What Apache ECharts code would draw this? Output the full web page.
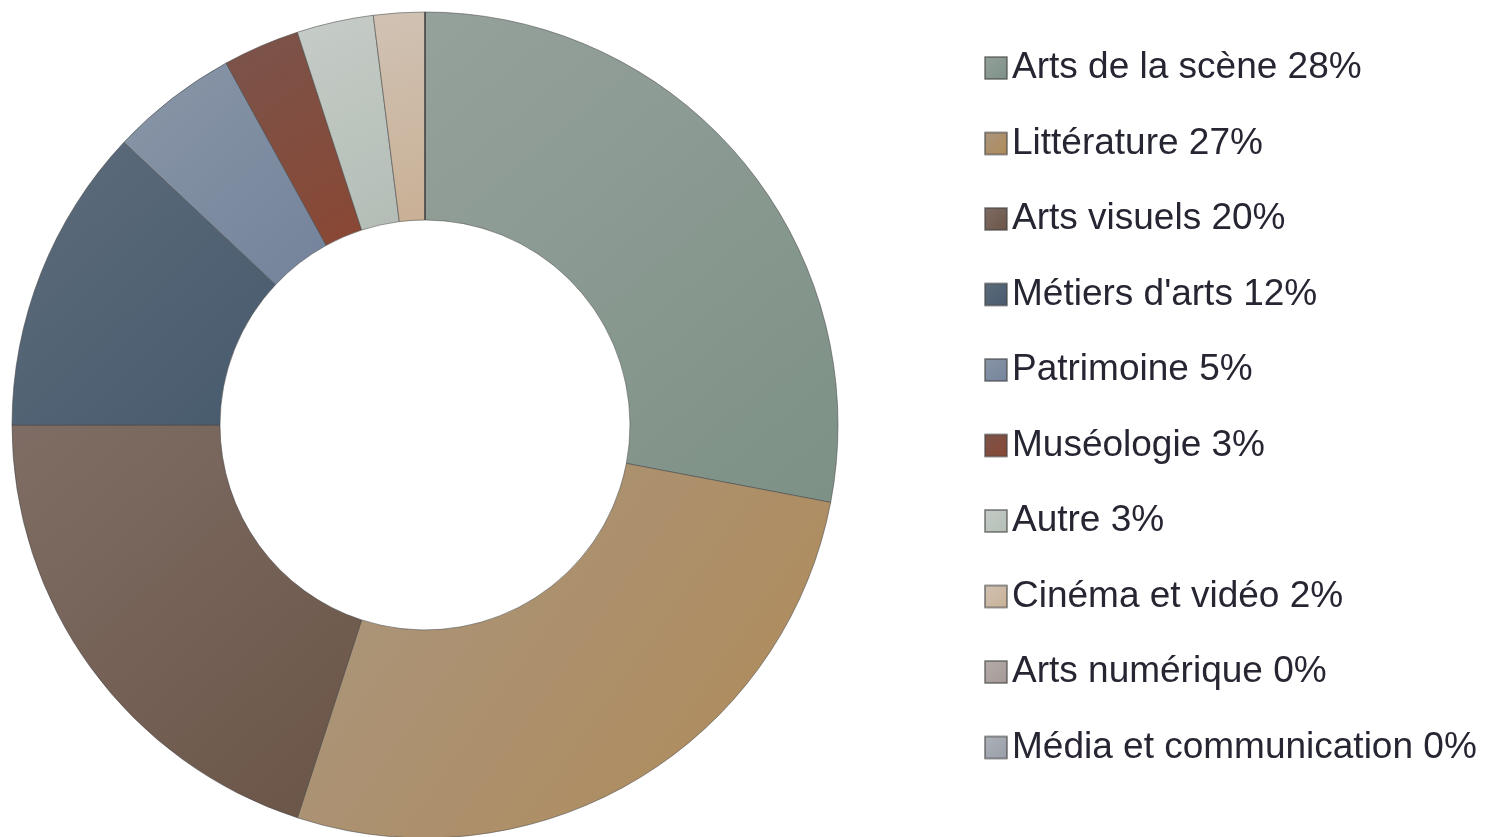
<!DOCTYPE html>
<html>
<head>
    <meta charset="utf-8">
    <title>Répartition par discipline</title>
    <script src="https://cdn.jsdelivr.net/npm/echarts@6/dist/echarts.min.js"></script>
    <style>
        html, body { margin: 0; padding: 0; background: #fff; }
        #chart { width: 1486px; height: 837px; }
    </style>
</head>
<body>
<div id="chart"></div>
<script>
    // données
    var categories = ['Arts de la scène', 'Littérature', 'Arts visuels', "Métiers d'arts", 'Patrimoine',
        'Muséologie', 'Autre', 'Cinéma et vidéo', 'Arts numérique', 'Média et communication'];
    var values = [28, 27, 20, 12, 5, 3, 3, 2, 0, 0];

    // couleurs [clair, foncé]
    var colors = [
        ['#95a19b', '#7d9186'],
        ['#a99680', '#b08a57'],
        ['#7f6d65', '#6a5446'],
        ['#5d6c7c', '#475a6d'],
        ['#8a96a7', '#73839b'],
        ['#7a544c', '#8a4733'],
        ['#c6ccc7', '#b3bdb6'],
        ['#d0c2b4', '#c9b095'],
        ['#b5acaa', '#a39896'],
        ['#aeb2b9', '#989ea8']
    ];

    var chart = echarts.init(document.getElementById('chart'));

    var data = categories.map(function (name, i) {
        return {
            name: name,
            value: values[i],
            itemStyle: {
                color: new echarts.graphic.LinearGradient(0, 0, 1, 1, [
                    {offset: 0, color: colors[i][0]},
                    {offset: 1, color: colors[i][1]}
                ])
            }
        };
    });

    var option = {
        animation: false,
        legend: {
            orient: 'vertical',
            left: 984,
            top: 49,
            padding: 0,
            itemWidth: 22,
            itemHeight: 22,
            itemGap: 37.5,
            icon: 'rect',
            textStyle: {
                fontFamily: 'Liberation Sans, Arial, sans-serif',
                fontSize: 37,
                color: '#262633',
                lineHeight: 38
            },
            formatter: function (name) {
                return name + ' ' + values[categories.indexOf(name)] + '%';
            },
            data: categories
        },
        series: [{
            type: 'pie',
            center: [425, 425],
            radius: [205, 413],
            startAngle: 90,
            clockwise: true,
            avoidLabelOverlap: false,
            label: {show: false},
            labelLine: {show: false},
            itemStyle: {
                borderColor: 'rgba(70,70,70,0.55)',
                borderWidth: 1
            },
            emphasis: {disabled: true},
            data: data
        }]
    };

    chart.setOption(option);
</script>
</body>
</html>
